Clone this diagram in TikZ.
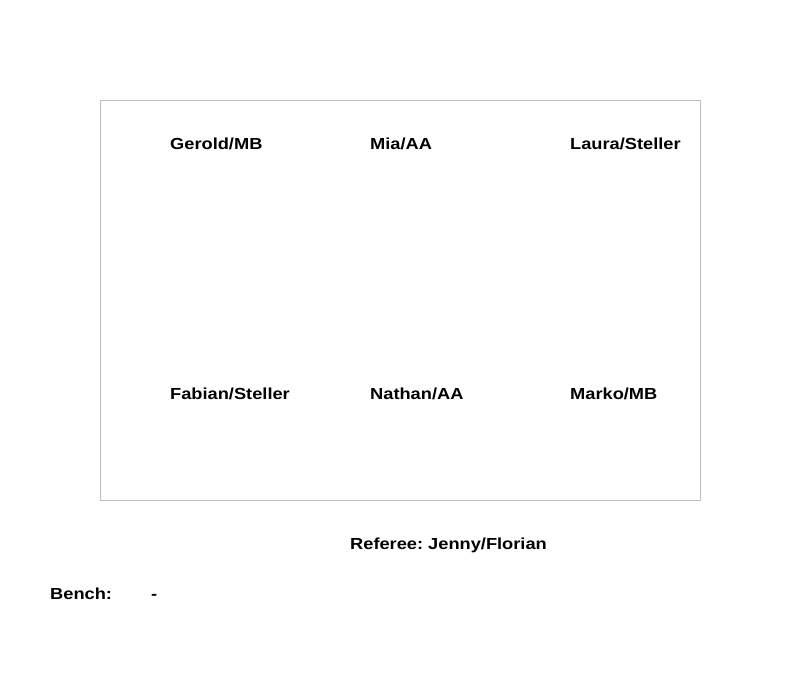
\documentclass[tikz,border=0pt]{standalone}
\usepackage{fontspec}
\setmainfont{Liberation Sans}[FakeStretch=1.14]
\begin{document}
\frenchspacing
\begin{tikzpicture}[x=1pt,y=-1pt,
  lbl/.style={anchor=base west,inner sep=0pt,font=\fontsize{16}{19}\selectfont\bfseries}]
\useasboundingbox (0,0) rectangle (800,700);
\node[draw=black!25,line width=1pt,minimum width=600pt,minimum height=400pt,inner sep=0pt] (court) at (400.5,300.5) {};
\node[lbl] (p1) at (170,149.5) {Gerold/MB};
\node[lbl] (p2) at (370,149.5) {Mia/AA};
\node[lbl] (p3) at (570,149.5) {Laura/Steller};
\node[lbl] (p4) at (170,399.5) {Fabian/Steller};
\node[lbl] (p5) at (370,399.5) {Nathan/AA};
\node[lbl] (p6) at (570,399.5) {Marko/MB};
\node[lbl] (ref) at (350,549.5) {Referee: Jenny/Florian};
\node[lbl] (bench) at (50,599.5) {Bench:};
\node[lbl] (dash) at (151,599.5) {-};
\end{tikzpicture}
\end{document}
